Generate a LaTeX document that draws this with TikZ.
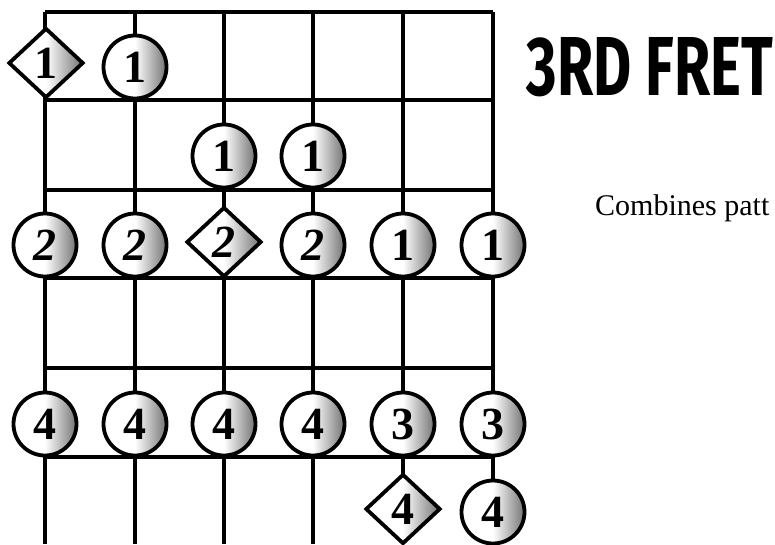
\documentclass[tikz,border=0pt]{standalone}
\usepackage{fontspec}
\setmainfont{Liberation Serif}
\newfontfamily\titlefont{Fira Sans}
\usetikzlibrary{shapes.geometric}
\newcommand\mkdotfont{\fontsize{46}{46}\selectfont\bfseries}
\begin{document}
\begin{tikzpicture}[x=1pt,y=-1pt,
  fret/.style={line width=4pt},
  strg/.style={line width=3.2pt},
  shadefill/.style={left color=white, right color=black!55, middle color=white},
  dot/.style={circle, draw, line width=3.8pt, minimum size=63pt, inner sep=0pt, shadefill, font=\mkdotfont},
  root/.style={diamond, draw, line width=3.8pt, minimum width=75pt, minimum height=70pt, inner sep=0pt, shadefill, font=\mkdotfont}]
\useasboundingbox (0,0) rectangle (775,544);
\fill[white] (0,0) rectangle (775,544);
% strings
\foreach \i/\x in {1/45,2/135,3/224,4/313,5/403,6/493}{
  \coordinate (s\i t) at (\x,12);
  \coordinate (s\i b) at (\x,544);
  \draw[strg] (s\i t) -- (s\i b);
}
% frets
\foreach \j/\y in {0/12,1/100,2/190,3/278,4/368,5/457}{
  \coordinate (f\j l) at (45,\y);
  \coordinate (f\j r) at (493,\y);
  \draw[fret] (f\j l) -- (f\j r);
}
% row 1
\node[root] (r1a) at (46,63) {1};
\node[dot] (r1b) at (135,67) {1};
% row 2
\node[dot] (r2c) at (224,156) {1};
\node[dot] (r2d) at (313,156) {1};
% row 3
\node[dot] (r3a) at (45,245) {\itshape 2};
\node[dot] (r3b) at (135,245) {\itshape 2};
\node[root] (r3c) at (224,242) {\itshape 2};
\node[dot] (r3d) at (313,245) {\itshape 2};
\node[dot] (r3e) at (403,245) {1};
\node[dot] (r3f) at (493,245) {1};
% row 5
\node[dot] (r5a) at (45,424) {4};
\node[dot] (r5b) at (135,424) {4};
\node[dot] (r5c) at (224,424) {4};
\node[dot] (r5d) at (313,424) {4};
\node[dot] (r5e) at (403,424) {3};
\node[dot] (r5f) at (493,424) {3};
% row 6
\node[root] (r6e) at (403,509) {4};
\node[dot] (r6f) at (493,512) {4};
% texts
\node[inner sep=0pt] (title) at (650,67) {\resizebox{246pt}{58pt}{\titlefont\bfseries 3RD FRET}};
\node[anchor=base west, inner sep=0pt, font=\fontsize{30}{36}\selectfont] (desc) at (595,215) {Combines patt};
\end{tikzpicture}
\end{document}
